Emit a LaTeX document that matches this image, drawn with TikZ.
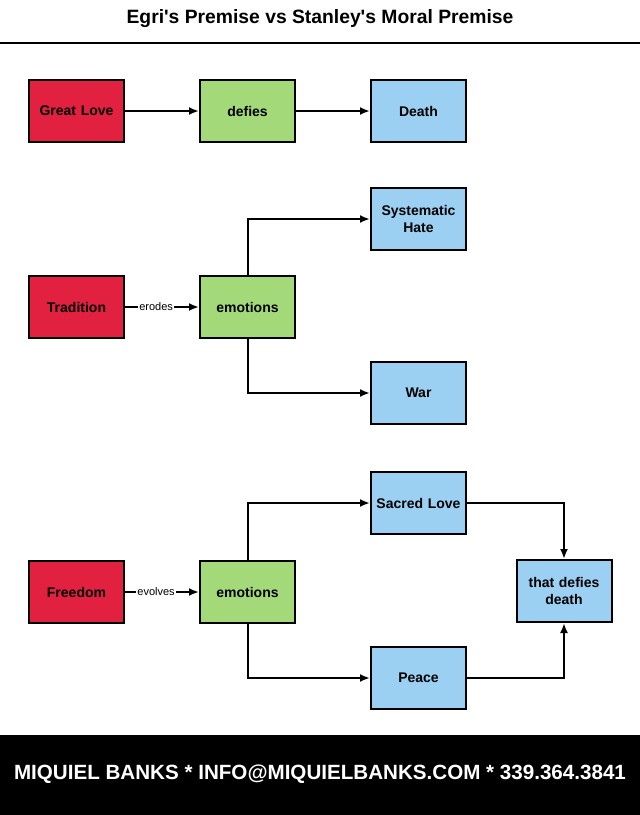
\documentclass[tikz,border=0pt]{standalone}
\usepackage{fontspec}
\setmainfont{Liberation Sans}
\usetikzlibrary{arrows.meta, positioning}

\definecolor{causered}{HTML}{E2203F}
\definecolor{verbgreen}{HTML}{A4D97A}
\definecolor{resultblue}{HTML}{9BD0F2}

\begin{document}
\begin{tikzpicture}[
    x=1pt, y=-1pt,
    box/.style={draw=black, line width=2pt, minimum width=95pt, minimum height=62pt,
      text width=86pt, align=center, font=\bfseries\fontsize{14}{17.5}\selectfont},
    cause/.style={box, fill=causered},
    verb/.style={box, fill=verbgreen},
    result/.style={box, fill=resultblue},
    link/.style={line width=2pt, -{Latex[length=10pt,width=8pt]}},
    linklabel/.style={fill=white, inner sep=1pt, pos=0.42, font=\fontsize{11}{13}\selectfont}
  ]

  \useasboundingbox (0,0) rectangle (640,815);

  % header
  \node (title) at (320,19) {\bfseries\fontsize{19.3}{22}\selectfont Egri\textquotesingle s Premise vs Stanley\textquotesingle s Moral Premise};
  \draw[line width=2pt] (0,43) -- (640,43);

  % Egri
  \node [cause] (greatlove) at (76.5,111) {Great Love};
  \node [verb] (defies) at (247.5,111) {defies};
  \node [result] (death) at (418.5,111) {Death};

  \draw[link] (greatlove) -- (defies);
  \draw[link] (defies) -- (death);

  % tradition
  \node [cause] (tradition) at (76.5,307) {Tradition};
  \node [verb] (emotionsA) at (247.5,307) {emotions};
  \node [result] (hate) at (418.5,219) {Systematic\\Hate};
  \node [result] (war) at (418.5,393) {War};

  \draw[link] (tradition) -- node[linklabel] {erodes} (emotionsA);
  \draw[link] (emotionsA) |- (hate);
  \draw[link] (emotionsA) |- (war);

  % freedom
  \node [cause] (freedom) at (76.5,592) {Freedom};
  \node [verb] (emotionsB) at (247.5,592) {emotions};
  \node [result] (sacredlove) at (418.5,503) {Sacred Love};
  \node [result] (peace) at (418.5,678) {Peace};
  \node [result] (defiesdeath) at (564,591) {that defies\\death};

  \draw[link] (freedom) -- node[linklabel] {evolves} (emotionsB);
  \draw[link] (emotionsB) |- (sacredlove);
  \draw[link] (emotionsB) |- (peace);
  \draw[link] (sacredlove) -| (defiesdeath);
  \draw[link] (peace) -| (defiesdeath);

  % footer
  \fill[black] (0,735) rectangle (640,815);
  \node [text=white, font=\bfseries\fontsize{20.6}{24}\selectfont] (footer) at (320,774)
    {MIQUIEL BANKS * INFO@MIQUIELBANKS.COM * 339.364.3841};

\end{tikzpicture}
\end{document}
